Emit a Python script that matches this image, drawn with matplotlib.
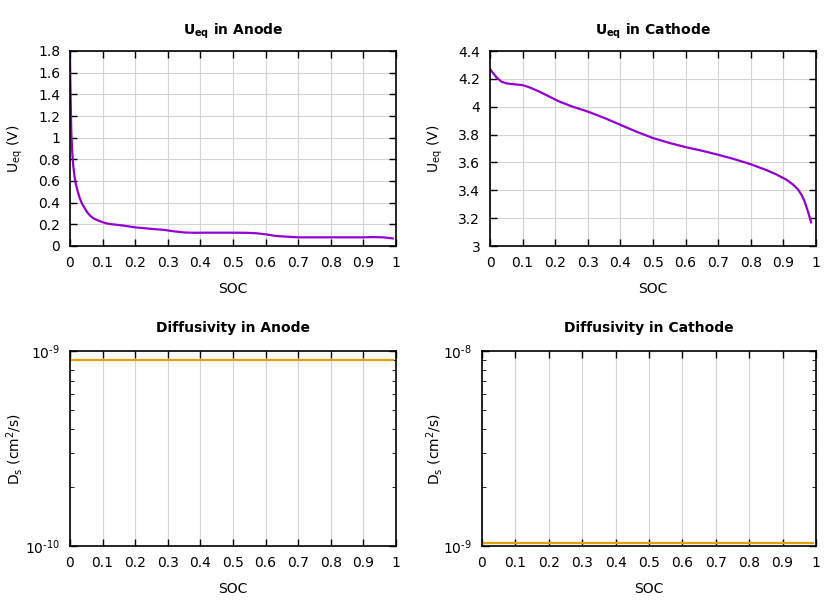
import numpy as np
import matplotlib
matplotlib.use("Agg")
import matplotlib.pyplot as plt
from matplotlib.ticker import FixedLocator, FixedFormatter, LogLocator, NullFormatter

# Anode equilibrium potential vs SOC
ANODE_SOC = [0.0, 0.002, 0.004, 0.007, 0.010, 0.014, 0.018, 0.024, 0.030, 0.037,
             0.045, 0.053, 0.062, 0.072, 0.083, 0.095, 0.11, 0.13, 0.16, 0.20,
             0.25, 0.29, 0.32, 0.35, 0.38, 0.42, 0.48, 0.54, 0.57, 0.60, 0.63,
             0.66, 0.70, 0.75, 0.80, 0.85, 0.90, 0.93, 0.96, 0.99]
ANODE_UEQ = [1.72, 1.35, 1.05, 0.86, 0.74, 0.64, 0.57, 0.50, 0.44, 0.39,
             0.35, 0.31, 0.28, 0.255, 0.24, 0.225, 0.21, 0.20, 0.19, 0.172,
             0.158, 0.148, 0.135, 0.125, 0.122, 0.123, 0.123, 0.122, 0.118, 0.108,
             0.093, 0.087, 0.080, 0.080, 0.080, 0.080, 0.080, 0.082, 0.080, 0.070]

# Cathode equilibrium potential vs SOC
CATHODE_SOC = [0.0, 0.01, 0.02, 0.035, 0.05, 0.07, 0.10, 0.12, 0.15, 0.18,
               0.21, 0.25, 0.30, 0.35, 0.40, 0.45, 0.50, 0.55, 0.60, 0.65,
               0.70, 0.75, 0.80, 0.85, 0.88, 0.91, 0.93, 0.945, 0.955, 0.965,
               0.975, 0.985]
CATHODE_UEQ = [4.27, 4.24, 4.21, 4.18, 4.168, 4.162, 4.155, 4.14, 4.11, 4.075,
               4.04, 4.003, 3.965, 3.92, 3.87, 3.82, 3.775, 3.74, 3.71, 3.684,
               3.655, 3.623, 3.587, 3.543, 3.512, 3.475, 3.44, 3.405, 3.37, 3.32,
               3.25, 3.17]

# Solid diffusivity (constant)
DIFF_SOC = [0.0, 0.99]
ANODE_DS = [9.0e-10, 9.0e-10]
CATHODE_DS = [1.03e-9, 1.03e-9]

XTICKS = [0, 0.1, 0.2, 0.3, 0.4, 0.5, 0.6, 0.7, 0.8, 0.9, 1]
XTICKLABELS = ["0", "0.1", "0.2", "0.3", "0.4", "0.5", "0.6", "0.7", "0.8", "0.9", "1"]

PURPLE = "#9400d3"
ORANGE = "#e69f00"

plt.rcParams["font.family"] = "DejaVu Sans"
plt.rcParams["font.size"] = 10
plt.rcParams["mathtext.default"] = "regular"

W, H = 840, 600
fig = plt.figure(figsize=(W / 100, H / 100), dpi=100)


def px_axes(x0, y0, x1, y1):
    return fig.add_axes([x0 / W, 1 - y1 / H, (x1 - x0) / W, (y1 - y0) / H])


def style(ax, title, ylabel, label_x, log=False):
    ax.set_title(title, fontweight="bold", fontsize=10, pad=14 if log else 12)
    ax.set_xlabel("SOC", labelpad=9)
    ax.set_ylabel(ylabel)
    ax.yaxis.set_label_coords(label_x, 0.5)
    ax.set_xlim(0, 1)
    ax.set_xticks(XTICKS)
    ax.set_xticklabels(XTICKLABELS)
    ax.tick_params(direction="in", top=True, right=True, length=5, width=1, pad=7)
    ax.tick_params(which="minor", direction="in", left=True, right=True, length=3)
    ax.grid(True, axis="x" if log else "both", color="#d3d3d3", linewidth=0.8)
    ax.set_axisbelow(True)
    for s in ax.spines.values():
        s.set_linewidth(1.2)


def log_y(ax, lo_exp, hi_exp):
    ax.set_yscale("log")
    ax.set_ylim(10.0 ** lo_exp, 10.0 ** hi_exp)
    ax.yaxis.set_major_locator(FixedLocator([10.0 ** lo_exp, 10.0 ** hi_exp]))
    ax.yaxis.set_major_formatter(FixedFormatter(
        [r"10$^{\text{%d}}$" % lo_exp, r"10$^{\text{%d}}$" % hi_exp]))
    ax.yaxis.set_minor_locator(LogLocator(base=10, subs=np.arange(2, 10)))
    ax.yaxis.set_minor_formatter(NullFormatter())


# Ueq anode
ax1 = px_axes(70, 51, 396, 246)
ax1.plot(ANODE_SOC, ANODE_UEQ, color=PURPLE, linewidth=1.6)
ax1.set_ylim(0, 1.8)
ax1.set_yticks(np.arange(0, 1.81, 0.2))
ax1.set_yticklabels(["0", "0.2", "0.4", "0.6", "0.8", "1", "1.2", "1.4", "1.6", "1.8"])
style(ax1, r"U$_{\mathbf{eq}}$ in Anode", r"U$_{eq}$ (V)", -45 / 326)

# Ueq cathode
ax2 = px_axes(490, 51, 816, 246)
ax2.plot(CATHODE_SOC, CATHODE_UEQ, color=PURPLE, linewidth=1.6)
ax2.set_ylim(3, 4.4)
ax2.set_yticks(np.arange(3, 4.41, 0.2))
ax2.set_yticklabels(["3", "3.2", "3.4", "3.6", "3.8", "4", "4.2", "4.4"])
style(ax2, r"U$_{\mathbf{eq}}$ in Cathode", r"U$_{eq}$ (V)", -45 / 326)

# Diffusivity anode
ax3 = px_axes(70, 351, 396, 546)
ax3.plot(DIFF_SOC, ANODE_DS, color=ORANGE, linewidth=1.6)
log_y(ax3, -10, -9)
style(ax3, "Diffusivity in Anode", r"D$_s$ (cm$^2$/s)", -45 / 326, log=True)

# Diffusivity cathode
ax4 = px_axes(482, 351, 816, 546)
ax4.plot(DIFF_SOC, CATHODE_DS, color=ORANGE, linewidth=1.6)
log_y(ax4, -9, -8)
style(ax4, "Diffusivity in Cathode", r"D$_s$ (cm$^2$/s)", -37 / 334, log=True)

fig.savefig("out.png", dpi=100)
